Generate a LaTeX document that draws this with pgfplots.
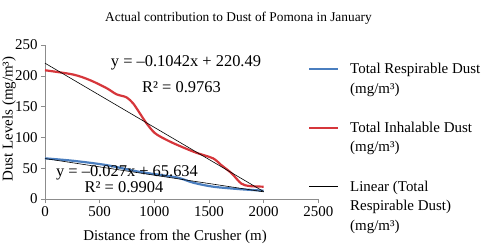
\documentclass[border=0pt]{standalone}
\usepackage{fontspec}
\setmainfont{Liberation Serif}
\usepackage{pgfplots}
\pgfplotsset{compat=1.18}
\definecolor{resp}{HTML}{4A7EBF}
\definecolor{inhal}{HTML}{D6363B}
\definecolor{axgray}{HTML}{8C8C8C}
\begin{document}
\begin{tikzpicture}
\path[use as bounding box] (0,0) rectangle (481bp,248bp);
\begin{axis}[
  at={(45bp,49bp)}, anchor=south west,
  scale only axis, width=273.3bp, height=154bp,
  xmin=0, xmax=2500, ymin=0, ymax=250,
  xtick={0,500,...,2500}, ytick={0,50,...,250},
  axis x line*=bottom, axis y line*=left,
  axis line style={axgray, line width=0.6bp},
  tick style={axgray, line width=0.6bp},
  tick align=outside, major tick length=4bp,
  /pgf/number format/assume math mode=true,
  /pgf/number format/1000 sep={},
  ticklabel style={font=\fontsize{15}{18}\selectfont, text=black},
  legend cell align=left,
  legend style={draw=none, fill=none, at={(0.9623,0.9078)}, anchor=north west,
    inner sep=0pt, outer sep=0pt, row sep=0pt, column sep=0pt,
    font=\fontsize{15}{18}\selectfont,
    nodes={minimum height=19.6bp, inner ysep=0pt, inner xsep=0pt}},
  legend image code/.code={\draw[#1] (0bp,0bp) -- (29bp,0bp);\path (40bp,0bp);},
  clip=false,
]
\addplot[resp, line width=2.2bp, smooth, tension=0.5] coordinates {
 (0,66) (259,62) (563,55) (868,44) (1202,35) (1355,26.5) (1537,20) (1781,16) (2000,13.5)};
\addlegendentry{Total Respirable Dust}
\addlegendimage{empty legend}\addlegendentry{(mg/m³)}
\addlegendimage{empty legend}\addlegendentry{\strut}
\addplot[inhal, line width=2.2bp, smooth, tension=0.5] coordinates {
 (0,209) (259,202) (411,193) (563,180) (654,170) (746,165) (807,155) (868,139)
 (928,123) (1005,107) (1111,96) (1233,86) (1385,75) (1537,66) (1613,55)
 (1705,42) (1796,25) (1872,21) (2000,20)};
\addlegendentry{Total Inhalable Dust}
\addlegendimage{empty legend}\addlegendentry{(mg/m³)}
\addlegendimage{empty legend}\addlegendentry{\strut}
\addplot[black, line width=0.6bp] coordinates {(0,65.634) (2000,11.634)};
\addlegendentry{Linear (Total}
\addplot[black, line width=0.6bp, forget plot] coordinates {(0,220.49) (2000,12.09)};
\addlegendimage{empty legend}\addlegendentry{Respirable Dust)}
\addlegendimage{empty legend}\addlegendentry{(mg/m³)}
\end{axis}
\node[font=\fontsize{13.4}{16}\selectfont] at (238.5bp,230bp) {Actual contribution to Dust of Pomona in January};
\node[font=\fontsize{15}{18}\selectfont] at (175bp,11bp) {Distance from the Crusher (m)};
\node[font=\fontsize{15}{18}\selectfont, rotate=90] at (9bp,129bp) {Dust Levels (mg/m³)};
\node[font=\fontsize{16.5}{19}\selectfont] at (186bp,185bp) {y = –0.1042x + 220.49};
\node[font=\fontsize{16.5}{19}\selectfont] at (181.5bp,161bp) {R² = 0.9763};
\node[font=\fontsize{16.5}{19}\selectfont] at (127bp,75.5bp) {y = –0.027x + 65.634};
\node[font=\fontsize{16.5}{19}\selectfont] at (124bp,60.5bp) {R² = 0.9904};
\end{tikzpicture}
\end{document}
